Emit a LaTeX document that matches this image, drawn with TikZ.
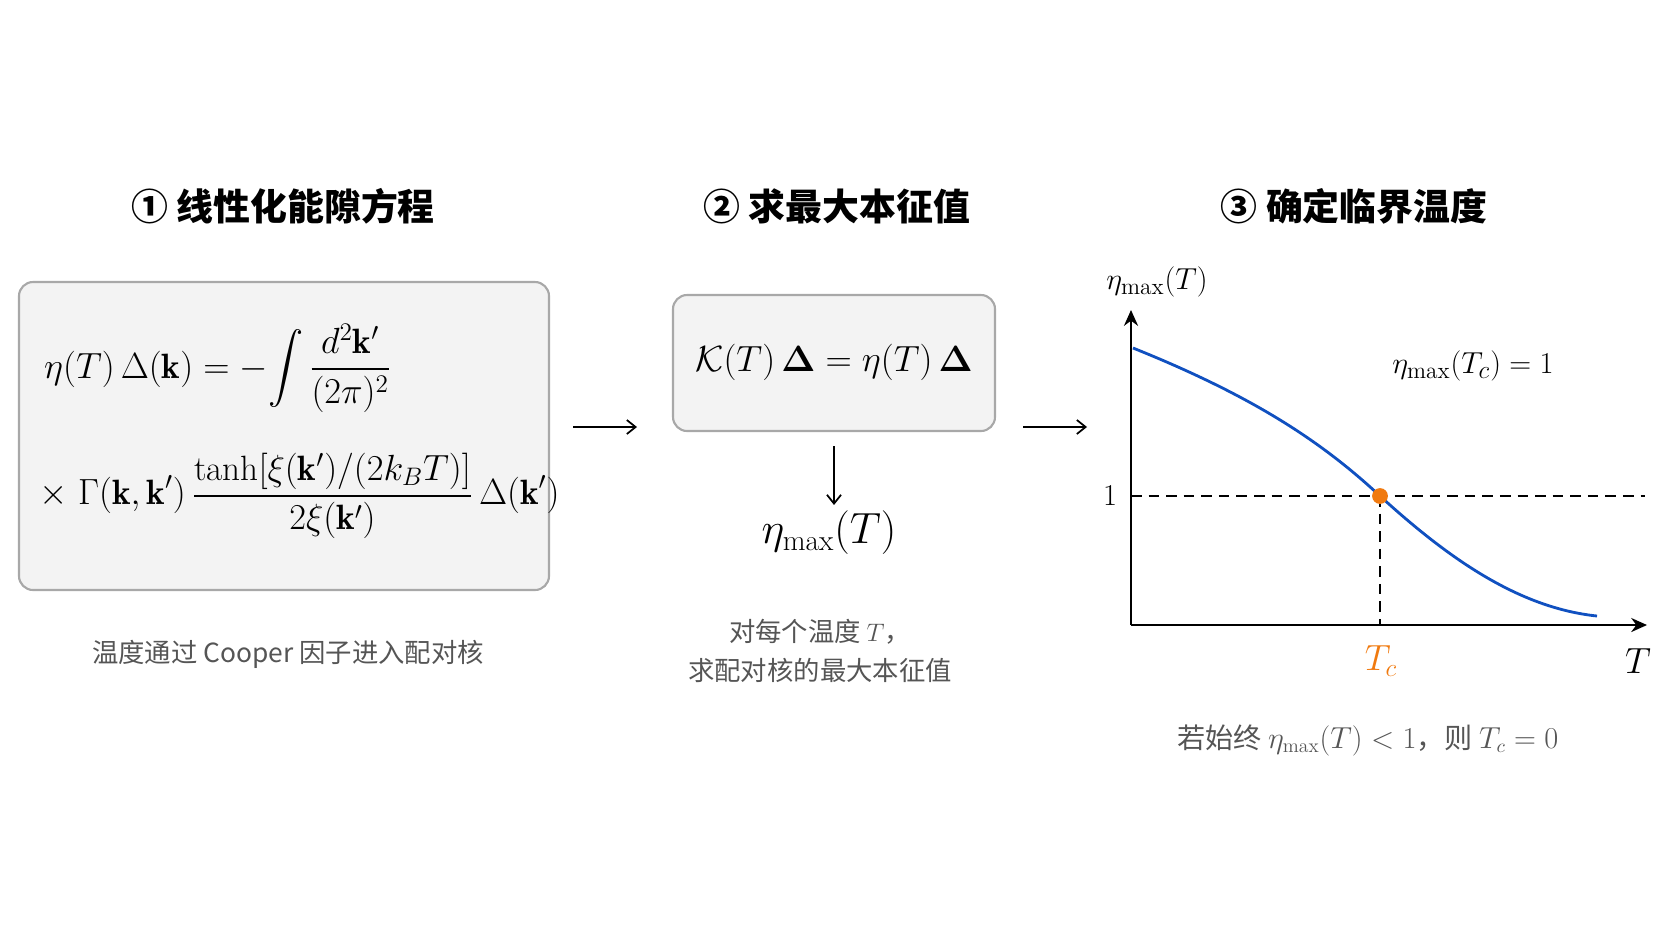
\documentclass[tikz,border=0pt]{standalone}
\usepackage{amsmath,amssymb}
\usepackage{fontspec}
\newfontfamily\cjk{Noto Sans CJK SC}
\usetikzlibrary{arrows.meta}
\definecolor{boxgray}{HTML}{F3F3F3}
\definecolor{bordergray}{HTML}{A8A8A8}
\definecolor{capgray}{HTML}{555555}
\definecolor{curveblue}{HTML}{1050C0}
\definecolor{tcorange}{HTML}{F07A10}
\begin{document}
\begin{tikzpicture}[x=0.02cm,y=-0.02cm,
  title/.style={font=\fontsize{21}{25}\selectfont\cjk\bfseries},
  box/.style={draw=bordergray,line width=1.2pt,fill=boxgray,rounded corners=8pt},
  captxt/.style={font=\fontsize{15}{22}\selectfont\cjk,text=capgray,align=center},
  arr/.style={-{Straight Barb[length=5pt,width=8pt]},line width=1pt},
  ax/.style={-{Stealth[length=9pt,width=8pt]},line width=1.3pt}]
\useasboundingbox (0,0) rectangle (1672,941);
% titles
\node[title] (t1) at (283,206) {① 线性化能隙方程};
\node[title] (t2) at (837,206) {② 求最大本征值};
\node[title] (t3) at (1354,206) {③ 确定临界温度};
% box 1
\draw[box] (19,282) rectangle (549,590);
\node[anchor=west,font=\fontsize{20}{24}\selectfont] (e1) at (38,368)
  {$\displaystyle \eta(T)\,\Delta(\mathbf{k}) = -\!\int \frac{d^2\mathbf{k}'}{(2\pi)^2}$};
\node[anchor=west,font=\fontsize{20}{24}\selectfont] (e2) at (33,496)
  {$\displaystyle \times\ \Gamma(\mathbf{k},\mathbf{k}')\,\frac{\tanh[\xi(\mathbf{k}')/(2k_BT)]}{2\xi(\mathbf{k}')}\,\Delta(\mathbf{k}')$};
\node[captxt] (c1) at (288,654) {温度通过 Cooper 因子进入配对核};
% arrow 1
\coordinate (a1s) at (573,427); \coordinate (a1e) at (637,427);
\draw[arr] (a1s) -- (a1e);
% box 2
\draw[box] (673,295) rectangle (995,431);
\node[font=\fontsize{21}{25}\selectfont] (e3) at (834,362)
  {$\mathcal{K}(T)\,\boldsymbol{\Delta} = \eta(T)\,\boldsymbol{\Delta}$};
\node[font=\fontsize{24}{28}\selectfont] (em) at (829,533) {$\eta_{\mathrm{max}}(T)$};
\coordinate (d1) at (834,446);
\draw[arr] (d1) -- (em.north -| d1);
\node[captxt] (c2) at (820,651) {对每个温度 $T$，\\求配对核的最大本征值};
% arrow 2
\coordinate (a2s) at (1023,427); \coordinate (a2e) at (1087,427);
\draw[arr] (a2s) -- (a2e);
% plot
\coordinate (O) at (1131,625);
\coordinate (Y) at (1131,310);
\coordinate (X) at (1647,625);
\draw[ax] (O) -- (Y);
\draw[ax] (O) -- (X);
\coordinate (P) at (1380,496);
\coordinate (H) at (1645,496);
\draw[line width=0.9pt,dash pattern=on 6pt off 4pt] (O |- P) -- (H);
\draw[line width=0.9pt,dash pattern=on 6pt off 4pt] (P) -- (P |- O);
\draw[curveblue,line width=1.6pt] (1133,348) .. controls (1250,395) and (1320,440) .. (P)
  .. controls (1450,560) and (1520,608) .. (1597,616);
\node[circle,fill=tcorange,inner sep=0pt,minimum size=9pt] (pt) at (P) {};
\node[font=\fontsize{19}{23}\selectfont] (yl) at (1157,282) {$\eta_{\mathrm{max}}(T)$};
\node[font=\fontsize{19}{23}\selectfont] (eq1) at (1473,366) {$\eta_{\mathrm{max}}(T_c) = 1$};
\node[font=\fontsize{19}{23}\selectfont] (one) at (1110,496) {$1$};
\node[font=\fontsize{22}{26}\selectfont,text=tcorange] (tc) at (1381,661) {$T_c$};
\node[font=\fontsize{20}{24}\selectfont] (tl) at (1638,661) {$T$};
\node[captxt,font=\fontsize{16}{22}\selectfont\cjk] (c3) at (1368,740) {若始终 $\eta_{\mathrm{max}}(T) < 1$，则 $T_c = 0$};
\end{tikzpicture}
\end{document}
